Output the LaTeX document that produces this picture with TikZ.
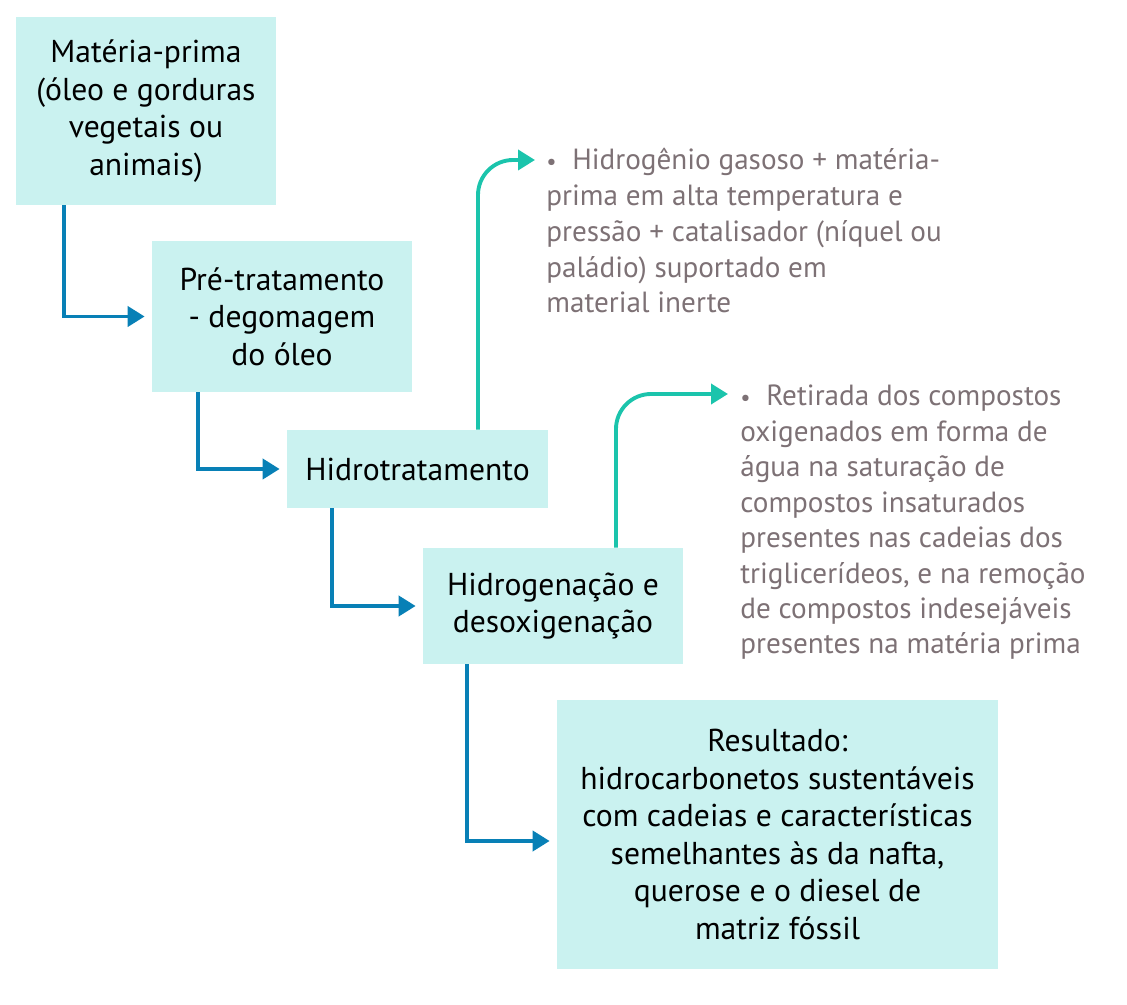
\documentclass[tikz,border=0pt]{standalone}
\usepackage{fontspec}
\setmainfont{PT Sans}
\usetikzlibrary{arrows.meta,calc}
\definecolor{boxfill}{RGB}{202,242,240}
\definecolor{flowblue}{RGB}{8,128,182}
\definecolor{flowteal}{RGB}{27,196,172}
\definecolor{notegray}{RGB}{125,113,117}
\tikzset{
    stepbox/.style={fill=boxfill, inner sep=0pt, align=center,
        font=\fontsize{18}{21.4}\selectfont},
    note/.style={anchor=base west, inner sep=0pt, align=left, text=notegray,
        font=\fontsize{16.6}{20.4}\selectfont},
    flow/.style={flowblue, line width=2.2pt, shorten >=0.14cm,
        -{Triangle[length=0.34cm,width=0.4cm]}},
    side/.style={flowteal, line width=2.2pt, rounded corners=0.7cm,
        -{Triangle[length=0.34cm,width=0.4cm]}}
}
\newcommand{\bul}{{\fontsize{13}{13}\selectfont\textbullet}\ \ }

\begin{document}
\begin{tikzpicture}
    \useasboundingbox (0, 0) rectangle (22.54, -20.1);
    % process boxes
    \node[stepbox, minimum width=5.2cm, minimum height=3.76cm] (mat) at (2.92, -2.22)
        {Matéria-prima\\(óleo e gorduras\\vegetais ou\\animais)};
    \node[stepbox, minimum width=5.2cm, minimum height=3.02cm] (pre) at (5.64, -6.33)
        {Pré-tratamento\\- degomagem\\do óleo};
    \node[stepbox, minimum width=5.22cm, minimum height=1.56cm] (hyd) at (8.35, -9.38)
        {Hidrotratamento};
    \node[stepbox, minimum width=5.2cm, minimum height=2.32cm] (hdo) at (11.06, -12.12)
        {Hidrogenação e\\desoxigenação};
    \node[stepbox, minimum width=8.82cm, minimum height=5.38cm] (res) at (15.55, -16.69)
        {Resultado:\\hidrocarbonetos sustentáveis\\com cadeias e características\\semelhantes às da nafta,\\querose e o diesel de\\matriz fóssil};
    % notes (anchored at the last baseline)
    \node[note] (n1) at (10.92, -6.26)
        {\bul Hidrogênio gasoso + matéria-\\prima em alta temperatura e\\pressão + catalisador (níquel ou\\paládio) suportado em\\material inerte};
    \node[note, font=\fontsize{16.6}{20.2}\selectfont] (n2) at (14.8, -13.08)
        {\bul Retirada dos compostos\\oxigenados em forma de\\água na saturação de\\compostos insaturados\\presentes nas cadeias dos\\triglicerídeos, e na remoção\\de compostos indesejáveis\\presentes na matéria prima};
    \coordinate (n1in) at (10.7, -3.2);
    \coordinate (n2in) at (14.56, -7.88);
    % connectors
    \draw[flow] ([xshift=0.96cm]mat.south west) |- (pre.west);
    \draw[flow] ([xshift=0.92cm]pre.south west) |- (hyd.west);
    \draw[flow] ([xshift=0.9cm]hyd.south west) |- (hdo.west);
    \draw[flow] ([xshift=0.88cm]hdo.south west) |- ([yshift=-0.13cm]res.west);
    \draw[side] ([xshift=1.21cm]hyd.north) |- (n1in);
    \draw[side] ([xshift=1.26cm]hdo.north) |- (n2in);
\end{tikzpicture}
\end{document}
